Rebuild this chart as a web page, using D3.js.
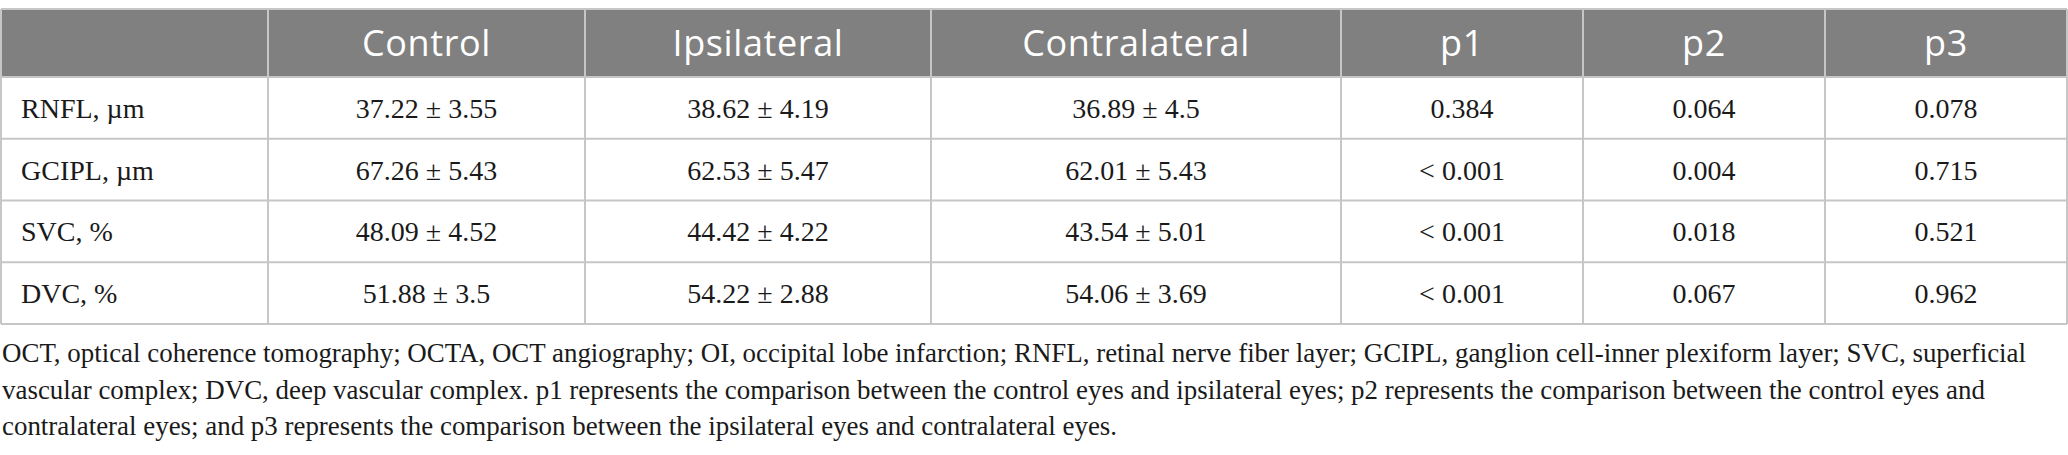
<!DOCTYPE html>
<html>
<head>
<meta charset="utf-8">
<script src="https://cdn.jsdelivr.net/npm/d3@7/dist/d3.min.js"></script>
<style>
  html, body { margin: 0; padding: 0; background: #fff; }
  svg { display: block; }
</style>
</head>
<body>
<svg id="chart" width="2068" height="455"></svg>
<script>
// ---------- data ----------
const headers = ["", "Control", "Ipsilateral", "Contralateral", "p1", "p2", "p3"];
const rowLabels = ["RNFL, µm", "GCIPL, µm", "SVC, %", "DVC, %"];
const controlVals = ["37.22 ± 3.55", "67.26 ± 5.43", "48.09 ± 4.52", "51.88 ± 3.5"];
const ipsilateralVals = ["38.62 ± 4.19", "62.53 ± 5.47", "44.42 ± 4.22", "54.22 ± 2.88"];
const contralateralVals = ["36.89 ± 4.5", "62.01 ± 5.43", "43.54 ± 5.01", "54.06 ± 3.69"];
const p1Vals = ["0.384", "< 0.001", "< 0.001", "< 0.001"];
const p2Vals = ["0.064", "0.004", "0.018", "0.067"];
const p3Vals = ["0.078", "0.715", "0.521", "0.962"];
const footnoteLines = [
  "OCT, optical coherence tomography; OCTA, OCT angiography; OI, occipital lobe infarction; RNFL, retinal nerve fiber layer; GCIPL, ganglion cell-inner plexiform layer; SVC, superficial",
  "vascular complex; DVC, deep vascular complex. p1 represents the comparison between the control eyes and ipsilateral eyes; p2 represents the comparison between the control eyes and",
  "contralateral eyes; and p3 represents the comparison between the ipsilateral eyes and contralateral eyes."
];

// ---------- layout ----------
const colEdges = [1, 268, 585, 931, 1341, 1583, 1825, 2067];
const tableTop = 9, headerBottom = 77, tableBottom = 324;
const gridColor = "#c6c6c6";
const headerFill = "#808080";

const svg = d3.select("#chart");

const columns = [rowLabels, controlVals, ipsilateralVals, contralateralVals, p1Vals, p2Vals, p3Vals];

const yRow = d3.scaleBand()
  .domain(d3.range(rowLabels.length))
  .range([headerBottom, tableBottom])
  .paddingInner(0).paddingOuter(0);

// header background
svg.append("rect")
  .attr("x", colEdges[0]).attr("y", tableTop)
  .attr("width", colEdges[colEdges.length - 1] - colEdges[0])
  .attr("height", headerBottom - tableTop)
  .attr("fill", headerFill);

// header text
svg.append("g").selectAll("text")
  .data(headers)
  .join("text")
  .attr("x", (d, i) => (colEdges[i] + colEdges[i + 1]) / 2)
  .attr("y", (tableTop + headerBottom) / 2)
  .attr("dy", "0.36em")
  .attr("text-anchor", "middle")
  .attr("fill", "#ffffff")
  .style("font-family", "'Open Sans', 'Noto Sans', sans-serif")
  .style("font-size", "36px")
  .style("letter-spacing", "0.6px")
  .style("font-weight", 400)
  .text(d => d);

// body cells
const cells = [];
columns.forEach((col, ci) => col.forEach((v, ri) => cells.push({ ci, ri, v })));

svg.append("g").selectAll("text")
  .data(cells)
  .join("text")
  .attr("x", d => d.ci === 0 ? 21 : (colEdges[d.ci] + colEdges[d.ci + 1]) / 2)
  .attr("y", d => yRow(d.ri) + yRow.bandwidth() / 2)
  .attr("dy", "0.36em")
  .attr("text-anchor", d => d.ci === 0 ? "start" : "middle")
  .attr("fill", "#1a1a1a")
  .style("font-family", "'Liberation Serif', 'Times New Roman', serif")
  .style("font-size", "28px")
  .text(d => d.v);

// grid lines
const grid = svg.append("g").attr("stroke", gridColor).attr("stroke-width", 2).attr("fill", "none");
const hLines = [tableTop, headerBottom].concat(d3.range(1, rowLabels.length + 1).map(i => i === rowLabels.length ? tableBottom : yRow(i)));
grid.selectAll("line.h")
  .data(hLines)
  .join("line")
  .attr("class", "h")
  .attr("x1", colEdges[0]).attr("x2", colEdges[colEdges.length - 1])
  .attr("y1", d => d).attr("y2", d => d);
grid.selectAll("line.v")
  .data(colEdges)
  .join("line")
  .attr("class", "v")
  .attr("x1", d => d).attr("x2", d => d)
  .attr("y1", tableTop).attr("y2", tableBottom);

// footnote
const fn = svg.append("g")
  .style("font-family", "'Liberation Serif', 'Times New Roman', serif")
  .style("font-size", "27px")
  .attr("fill", "#1a1a1a");
const fnTexts = fn.selectAll("text")
  .data(footnoteLines)
  .join("text")
  .attr("x", 2)
  .attr("y", (d, i) => 362 + i * 36.5)
  .text(d => d);

// condense horizontally like the original typeface
const natural = fnTexts.nodes().map(n => n.getComputedTextLength());
const factor = 2024 / natural[0];
fnTexts.attr("textLength", (d, i) => natural[i] * factor)
  .attr("lengthAdjust", "spacingAndGlyphs");
</script>
</body>
</html>
